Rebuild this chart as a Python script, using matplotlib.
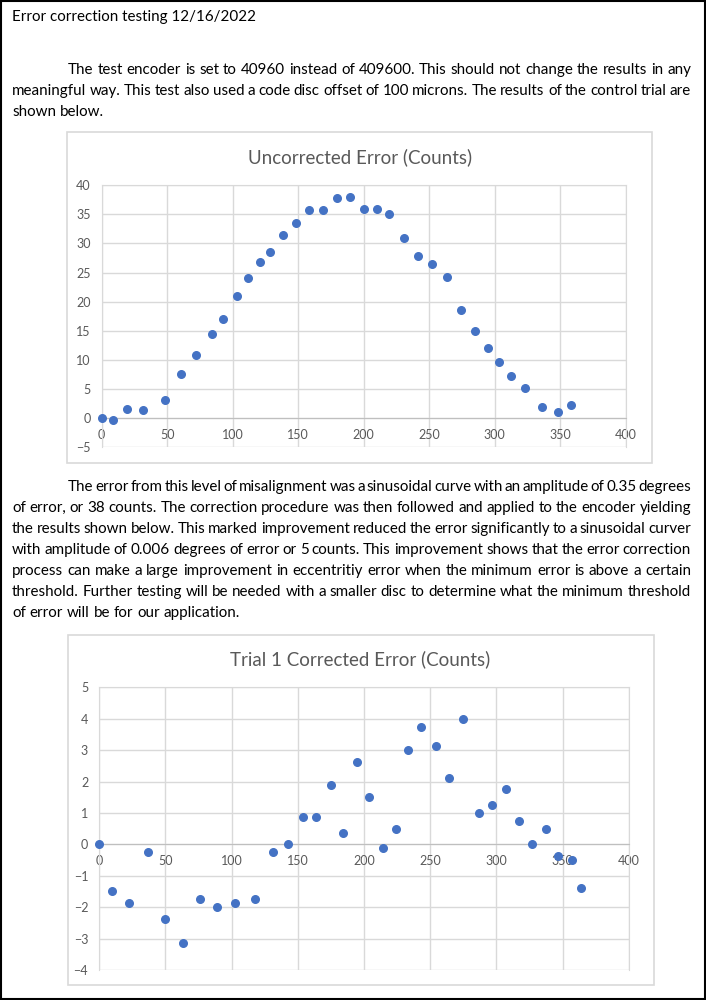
import matplotlib
matplotlib.use("Agg")
import matplotlib.pyplot as plt
from matplotlib.patches import Rectangle

plt.rcParams['font.family'] = ['Lato', 'DejaVu Sans']

W, H = 706, 1000

# data (angle in degrees, error in counts)
unc_angle = [0, 9, 19.5, 31.7, 48.2, 60.4, 72.3, 84, 92.6, 103.3, 111.7, 120.6,
             128.2, 138.3, 148, 157.9, 169.3, 179.7, 189.7, 200.4, 210.1, 219.5,
             230.6, 241.1, 252.3, 263.4, 274.1, 284.8, 294.9, 303.3, 312.7, 322.9,
             336.4, 348, 358.5]
unc_error = [0, -0.3, 1.6, 1.3, 3.1, 7.5, 10.9, 14.5, 17.1, 20.9, 24.1, 26.8,
             28.6, 31.4, 33.5, 35.8, 35.8, 37.9, 38.0, 35.9, 36.0, 35.1,
             31.0, 27.9, 26.4, 24.2, 18.6, 15.0, 12.0, 9.6, 7.2, 5.1,
             1.9, 1.0, 2.2]

cor_angle = [0, 9.3, 22.7, 36.5, 49.6, 63.0, 76.3, 88.9, 102.5, 117.6, 131.2,
             142.8, 153.7, 163.7, 175.1, 184.4, 194.9, 204.0, 214.6, 223.9,
             233.5, 243.1, 254.7, 264.2, 274.8, 286.6, 296.5, 307.3, 317.1,
             327, 337.8, 346.9, 357.2, 363.7]
cor_error = [0, -1.5, -1.875, -0.25, -2.375, -3.125, -1.75, -2, -1.875, -1.75,
             -0.25, 0, 0.875, 0.875, 1.875, 0.375, 2.625, 1.5, -0.125, 0.5,
             3, 3.75, 3.125, 2.125, 4, 1, 1.25, 1.75, 0.75, 0, 0.5, -0.375,
             -0.5, -1.375]

title1 = "Uncorrected Error (Counts)"
title2 = "Trial 1 Corrected Error (Counts)"

heading = "Error correction testing 12/16/2022"
para1 = [
    "The test encoder is set to 40960 instead of 409600. This should not change the results in any",
    "meaningful way. This test also used a code disc offset of 100 microns. The results of the control trial are",
    "shown below.",
]
para2 = [
    "The error from this level of misalignment was a sinusoidal curve with an amplitude of 0.35 degrees",
    "of error, or 38 counts. The correction procedure was then followed and applied to the encoder yielding",
    "the results shown below. This marked improvement reduced the error significantly to a sinusoidal curver",
    "with amplitude of 0.006 degrees of error or 5 counts. This improvement shows that the error correction",
    "process can make a large improvement in eccentritiy error when the minimum error is above a certain",
    "threshold. Further testing will be needed with a smaller disc to determine what the minimum threshold",
    "of error will be for our application.",
]

BLUE = "#4472C4"
GRID = "#d9d9d9"
LABEL = "#595959"
TEXT_SIZE = 10.9

fig = plt.figure(figsize=(W / 100, H / 100), dpi=100)
renderer = fig.canvas.get_renderer()


def fx(x):
    return x / W


def fy(y):
    return 1 - y / H


def justified(lines, y0, step, left=12, right=691, indent=56):
    # word by word so the lines come out justified like the document
    sp = fig.text(0, 0, "a b", fontsize=TEXT_SIZE)
    sp2 = fig.text(0, 0, "ab", fontsize=TEXT_SIZE)
    space = sp.get_window_extent(renderer).width - sp2.get_window_extent(renderer).width
    sp.remove()
    sp2.remove()
    for i, line in enumerate(lines):
        y = y0 + i * step
        start = left + (indent if i == 0 else 0)
        words = line.split()
        arts = [fig.text(fx(start), fy(y), w, fontsize=TEXT_SIZE, va='center')
                for w in words]
        widths = [a.get_window_extent(renderer).width for a in arts]
        if i == len(lines) - 1:
            gap = space
        else:
            gap = (right - start - sum(widths)) / (len(words) - 1)
        x = start
        for a, wd in zip(arts, widths):
            a.set_x(fx(x))
            x += wd + gap


def chart_box(x0, y0, x1, y1):
    fig.patches.append(Rectangle((fx(x0), fy(y1)), (x1 - x0) / W, (y1 - y0) / H,
                                 transform=fig.transFigure, fill=False,
                                 edgecolor=GRID, linewidth=1.2))


def scatter_axes(px0, py0, px1, py1, xs, ys, ylim, ystep):
    ax = fig.add_axes([fx(px0), fy(py1), (px1 - px0) / W, (py1 - py0) / H])
    ax.scatter(xs, ys, s=30, color=BLUE, zorder=3, clip_on=False)
    ax.set_xlim(0, 400)
    ax.set_ylim(*ylim)
    ax.set_xticks(range(0, 401, 50))
    ax.set_yticks(range(ylim[0], ylim[1] + 1, ystep))
    ax.grid(True, color=GRID, linewidth=1)
    ax.set_axisbelow(True)
    ax.spines['bottom'].set_position(('data', 0))
    ax.spines['bottom'].set_color("#bfbfbf")
    for s in ['top', 'right', 'left']:
        ax.spines[s].set_color(GRID)
    ax.tick_params(axis='both', length=0, labelsize=9, labelcolor=LABEL)
    ax.tick_params(axis='x', pad=8)
    ax.tick_params(axis='y', pad=8)
    return ax


# page frame
fig.patches.append(Rectangle((fx(1), fy(999)), 704 / W, 998 / H,
                             transform=fig.transFigure, fill=False,
                             edgecolor="black", linewidth=1.5))

fig.text(fx(12), fy(17), heading, fontsize=TEXT_SIZE, va='center')
justified(para1, 70, 21.2)
justified(para2, 487, 21.0)

# chart 1
chart_box(67.3, 132.3, 651.7, 462.7)
fig.text(fx(360), fy(157), title1, fontsize=13.5, color=LABEL, ha='center', va='center')
scatter_axes(101.7, 185.3, 625.7, 447.1, unc_angle, unc_error, (-5, 40), 5)

# chart 2
chart_box(68.3, 634.7, 654, 985)
fig.text(fx(360), fy(659), title2, fontsize=13.5, color=LABEL, ha='center', va='center')
scatter_axes(99.3, 687.3, 628.7, 970, cor_angle, cor_error, (-4, 5), 1)

fig.savefig("out.png", dpi=100)
